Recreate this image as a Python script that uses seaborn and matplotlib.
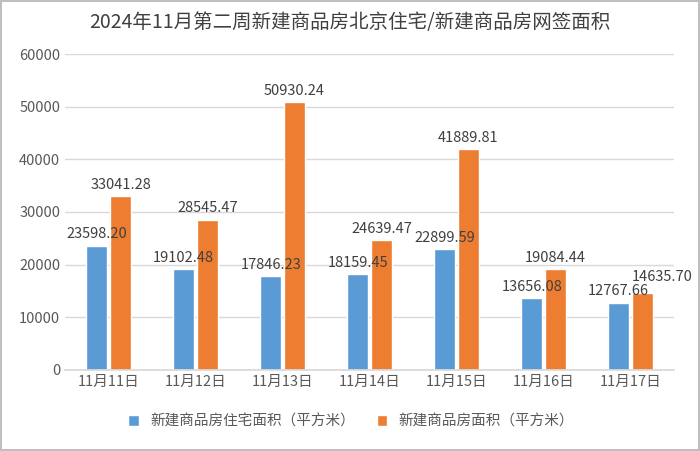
import matplotlib
matplotlib.use("Agg")
import matplotlib.pyplot as plt
import seaborn as sns
import pandas as pd

days = ["11月11日", "11月12日", "11月13日", "11月14日", "11月15日", "11月16日", "11月17日"]
s1_name = "新建商品房住宅面积（平方米）"
s2_name = "新建商品房面积（平方米）"
s1 = [23598.20, 19102.48, 17846.23, 18159.45, 22899.59, 13656.08, 12767.66]
s2 = [33041.28, 28545.47, 50930.24, 24639.47, 41889.81, 19084.44, 14635.70]

df = pd.DataFrame({"day": days * 2, "val": s1 + s2,
                   "series": [s1_name] * len(days) + [s2_name] * len(days)})

sns.set_theme(style="white")
plt.rcParams['font.family'] = ['Noto Sans CJK SC', 'DejaVu Sans']

fig = plt.figure(figsize=(7, 4.51), dpi=100)
fig.patch.set_edgecolor("#BFBFBF"); fig.patch.set_linewidth(1.5)
ax = fig.add_axes([0.093, 0.18, 0.87, 0.70])
sns.barplot(data=df, x="day", y="val", hue="series", order=days,
            palette=["#5B9BD5", "#ED7D31"], width=0.55, gap=0.15, saturation=1, ax=ax)
for i, c in enumerate(ax.containers):
    texts = ax.bar_label(c, labels=[f"{v:.2f}" for v in c.datavalues], padding=3,
                         fontsize=10.5, color="#404040")
    if i == 1:
        texts[-1].set_position((14, 6))
ax.set_ylim(0, 60000)
ax.set_yticks(range(0, 60001, 10000))
ax.yaxis.grid(True, color="#D9D9D9", lw=1)
ax.set_axisbelow(True)
for s in ["top", "right", "left"]:
    ax.spines[s].set_visible(False)
ax.spines["bottom"].set_color("#D9D9D9")
ax.tick_params(axis="both", labelsize=10.5, colors="#595959", length=0)
ax.set_xlabel(""); ax.set_ylabel("")
ax.legend(loc="upper center", bbox_to_anchor=(0.47, -0.1), ncol=2, frameon=False,
          fontsize=10.5, handlelength=0.7, handleheight=0.7, columnspacing=1.5,
          labelcolor="#595959")
fig.text(0.5, 0.95, "2024年11月第二周新建商品房北京住宅/新建商品房网签面积",
         ha="center", va="center", fontsize=14, color="#404040")
fig.savefig("out.png", dpi=100, edgecolor=fig.get_edgecolor())
